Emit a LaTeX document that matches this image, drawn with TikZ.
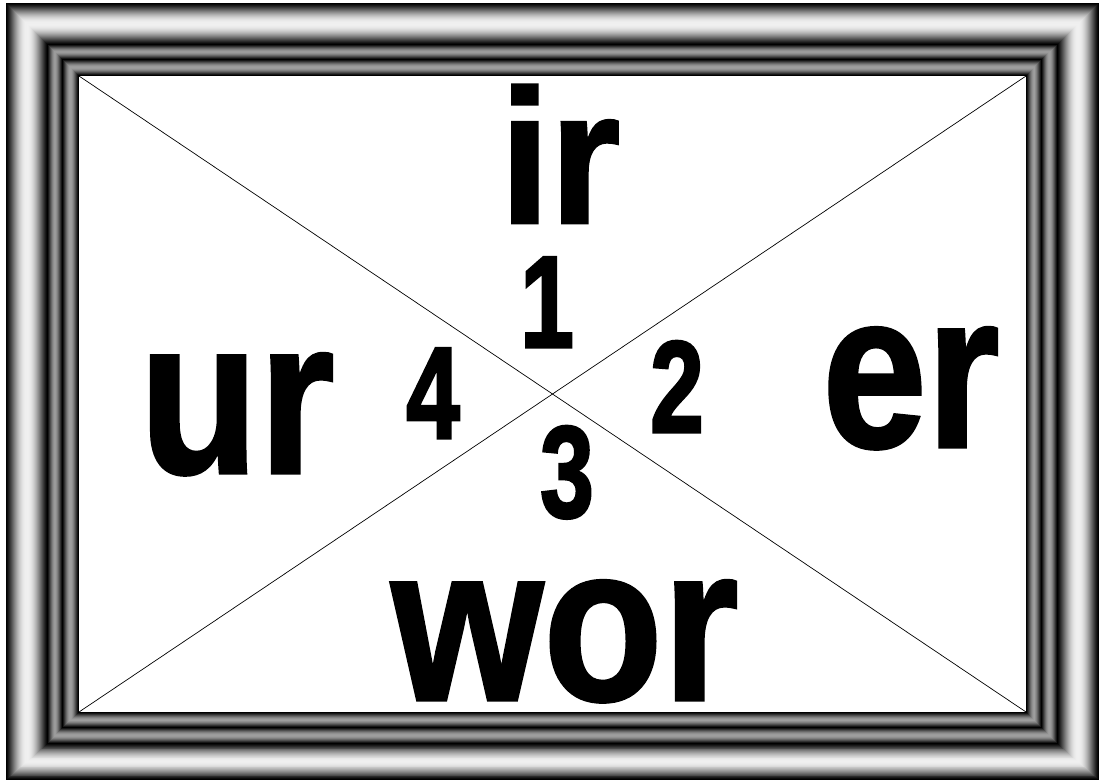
\documentclass[tikz,border=0pt]{standalone}
\usepackage{fontspec}
\setmainfont{Liberation Sans}
\newfontfamily\heavyA{Liberation Sans}[BoldFeatures={FakeBold=1.5}]
\newfontfamily\heavyB{Liberation Sans}[BoldFeatures={FakeBold=2.5}]
\tikzset{
  word/.style={inner sep=0pt, anchor=base, font=\heavyA\fontsize{222}{222}\selectfont\bfseries, xscale=0.88},
  digit/.style={inner sep=0pt, anchor=base, font=\heavyB\fontsize{130}{130}\selectfont\bfseries, xscale=0.74},
  diag/.style={draw=black, line width=0.7pt}
}
\begin{document}
\begin{tikzpicture}[x=1pt,y=-1pt]
\useasboundingbox (0,0) rectangle (1102,782);
% band A (outer tube)
\foreach \i in {0,...,40}{
  \pgfmathsetmacro\t{\i/40}
  \pgfmathsetmacro\xa{6+41*\t}\pgfmathsetmacro\ya{3+41*\t}
  \pgfmathsetmacro\xb{1099-41*\t}\pgfmathsetmacro\yb{780-36*\t}
  \pgfmathsetmacro\v{94*pow(sin(180*\t),1.2)}
  \fill[white!\v!black] (\xa,\ya) rectangle (\xb,\yb);
}
% band B
\foreach \i in {0,...,16}{
  \pgfmathsetmacro\t{\i/16}
  \pgfmathsetmacro\xa{47+15*\t}\pgfmathsetmacro\ya{44+15*\t}
  \pgfmathsetmacro\xb{1058-16*\t}\pgfmathsetmacro\yb{744-16*\t}
  \pgfmathsetmacro\v{62*pow(sin(180*\t),1.2)}
  \fill[white!\v!black] (\xa,\ya) rectangle (\xb,\yb);
}
% band C
\foreach \i in {0,...,16}{
  \pgfmathsetmacro\t{\i/16}
  \pgfmathsetmacro\xa{62+16*\t}\pgfmathsetmacro\ya{59+16*\t}
  \pgfmathsetmacro\xb{1042-15*\t}\pgfmathsetmacro\yb{728-15*\t}
  \pgfmathsetmacro\v{62*pow(sin(180*\t),1.2)}
  \fill[white!\v!black] (\xa,\ya) rectangle (\xb,\yb);
}
\fill[white] (79,76) rectangle (1026,712);
\coordinate (tl) at (79,76);
\coordinate (tr) at (1026,76);
\coordinate (bl) at (79,712);
\coordinate (br) at (1026,712);
\draw[diag] (tl) -- (br);
\draw[diag] (tr) -- (bl);
\node[word, font=\heavyA\fontsize{205}{205}\selectfont\bfseries, yscale=0.93] (ir) at (560,223) {ir};
\node[word] (ur) at (237,473) {ur};
\node[word, xscale=0.96] (er) at (911,447) {er};
\node[word] (wor) at (565,700) {wor};
\node[digit] (d1) at (547,347) {1};
\node[digit] (d2) at (677,432) {2};
\node[digit] (d3) at (567,517) {3};
\node[digit] (d4) at (433,438) {4};
\end{tikzpicture}
\end{document}
